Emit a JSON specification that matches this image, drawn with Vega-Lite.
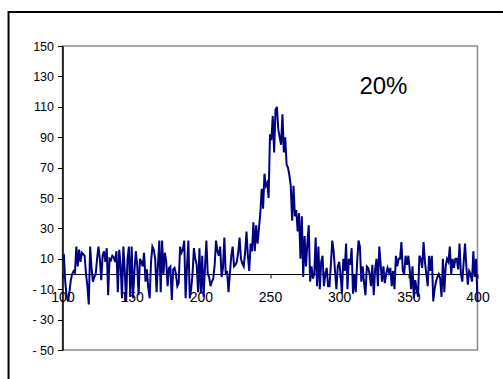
{
  "$schema": "https://vega.github.io/schema/vega-lite/v6.json",
  "autosize": {"type": "none"},
  "width": 415,
  "height": 304,
  "padding": {"left": 62.5, "top": 46, "right": 25.5, "bottom": 29},
  "background": "white",
  "config": {
    "font": "Liberation Sans",
    "view": {"stroke": "#8c8c8c", "strokeWidth": 1.5},
    "axis": {
      "domainColor": "black",
      "tickColor": "black",
      "labelColor": "black",
      "labelFont": "Liberation Sans",
      "grid": false,
      "title": null
    }
  },
  "datasets": {
    "signal": [
      {"x":100,"y":11},{"x":101,"y":12},{"x":102,"y":-5},{"x":103,"y":-15},{"x":104,"y":-18},{"x":105,"y":-12},{"x":106,"y":-4},{"x":107,"y":0},{"x":108,"y":2},{"x":109,"y":1},
      {"x":110,"y":18},{"x":111,"y":5},{"x":112,"y":16},{"x":113,"y":8},{"x":114,"y":14},{"x":115,"y":13},{"x":116,"y":12},{"x":117,"y":0},{"x":118,"y":-8},{"x":119,"y":-20},
      {"x":120,"y":18},{"x":121,"y":4},{"x":122,"y":-5},{"x":123,"y":-2},{"x":124,"y":0},{"x":125,"y":10},{"x":126,"y":18},{"x":127,"y":10},{"x":128,"y":-4},{"x":129,"y":12},
      {"x":130,"y":15},{"x":131,"y":8},{"x":132,"y":17},{"x":133,"y":-14},{"x":134,"y":10},{"x":135,"y":9},{"x":136,"y":12},{"x":137,"y":11},{"x":138,"y":8},{"x":139,"y":15},
      {"x":140,"y":-12},{"x":141,"y":16},{"x":142,"y":6},{"x":143,"y":-16},{"x":144,"y":18},{"x":145,"y":2},{"x":146,"y":-18},{"x":147,"y":10},{"x":148,"y":18},{"x":149,"y":-15},
      {"x":150,"y":18},{"x":151,"y":-16},{"x":152,"y":2},{"x":153,"y":15},{"x":154,"y":6},{"x":155,"y":-14},{"x":156,"y":10},{"x":157,"y":8},{"x":158,"y":5},{"x":159,"y":14},
      {"x":160,"y":-5},{"x":161,"y":3},{"x":162,"y":-9},{"x":163,"y":-16},{"x":164,"y":8},{"x":165,"y":18},{"x":166,"y":16},{"x":167,"y":10},{"x":168,"y":-12},{"x":169,"y":6},
      {"x":170,"y":22},{"x":171,"y":-12},{"x":172,"y":22},{"x":173,"y":0},{"x":174,"y":14},{"x":175,"y":8},{"x":176,"y":-8},{"x":177,"y":4},{"x":178,"y":5},{"x":179,"y":-17},
      {"x":180,"y":3},{"x":181,"y":4},{"x":182,"y":0},{"x":183,"y":-8},{"x":184,"y":-6},{"x":185,"y":18},{"x":186,"y":14},{"x":187,"y":16},{"x":188,"y":22},{"x":189,"y":-16},
      {"x":190,"y":5},{"x":191,"y":22},{"x":192,"y":-16},{"x":193,"y":-10},{"x":194,"y":0},{"x":195,"y":17},{"x":196,"y":10},{"x":197,"y":6},{"x":198,"y":-12},{"x":199,"y":17},
      {"x":200,"y":-13},{"x":201,"y":12},{"x":202,"y":-15},{"x":203,"y":4},{"x":204,"y":22},{"x":205,"y":0},{"x":206,"y":-2},{"x":207,"y":-8},{"x":208,"y":-5},{"x":209,"y":-3},
      {"x":210,"y":6},{"x":211,"y":22},{"x":212,"y":15},{"x":213,"y":12},{"x":214,"y":18},{"x":215,"y":-2},{"x":216,"y":4},{"x":217,"y":24},{"x":218,"y":0},{"x":219,"y":2},
      {"x":220,"y":-12},{"x":221,"y":0},{"x":222,"y":12},{"x":223,"y":18},{"x":224,"y":5},{"x":225,"y":6},{"x":226,"y":8},{"x":227,"y":14},{"x":228,"y":24},{"x":229,"y":10},
      {"x":230,"y":7},{"x":231,"y":5},{"x":232,"y":14},{"x":233,"y":28},{"x":234,"y":12},{"x":235,"y":2},{"x":236,"y":20},{"x":237,"y":15},{"x":238,"y":34},{"x":239,"y":15},
      {"x":240,"y":32},{"x":241,"y":20},{"x":242,"y":30},{"x":243,"y":40},{"x":244,"y":56},{"x":245,"y":43},{"x":246,"y":66},{"x":247,"y":58},{"x":248,"y":60},{"x":249,"y":50},
      {"x":250,"y":92},{"x":251,"y":88},{"x":252,"y":104},{"x":253,"y":80},{"x":254,"y":108},{"x":255,"y":110},{"x":256,"y":95},{"x":257,"y":90},{"x":258,"y":85},{"x":259,"y":105},
      {"x":260,"y":80},{"x":261,"y":90},{"x":262,"y":72},{"x":263,"y":70},{"x":264,"y":65},{"x":265,"y":58},{"x":266,"y":35},{"x":267,"y":58},{"x":268,"y":38},{"x":269,"y":42},
      {"x":270,"y":28},{"x":271,"y":40},{"x":272,"y":10},{"x":273,"y":38},{"x":274,"y":-2},{"x":275,"y":25},{"x":276,"y":5},{"x":277,"y":20},{"x":278,"y":32},{"x":279,"y":-5},
      {"x":280,"y":5},{"x":281,"y":-3},{"x":282,"y":0},{"x":283,"y":24},{"x":284,"y":-8},{"x":285,"y":18},{"x":286,"y":-10},{"x":287,"y":8},{"x":288,"y":12},{"x":289,"y":-8},
      {"x":290,"y":0},{"x":291,"y":4},{"x":292,"y":-8},{"x":293,"y":-8},{"x":294,"y":6},{"x":295,"y":22},{"x":296,"y":15},{"x":297,"y":2},{"x":298,"y":-10},{"x":299,"y":5},
      {"x":300,"y":8},{"x":301,"y":0},{"x":302,"y":-13},{"x":303,"y":10},{"x":304,"y":2},{"x":305,"y":20},{"x":306,"y":-10},{"x":307,"y":10},{"x":308,"y":6},{"x":309,"y":17},
      {"x":310,"y":-13},{"x":311,"y":0},{"x":312,"y":-12},{"x":313,"y":8},{"x":314,"y":22},{"x":315,"y":18},{"x":316,"y":-5},{"x":317,"y":5},{"x":318,"y":-6},{"x":319,"y":-14},
      {"x":320,"y":5},{"x":321,"y":4},{"x":322,"y":0},{"x":323,"y":-8},{"x":324,"y":6},{"x":325,"y":-14},{"x":326,"y":3},{"x":327,"y":10},{"x":328,"y":-8},{"x":329,"y":18},
      {"x":330,"y":6},{"x":331,"y":-5},{"x":332,"y":5},{"x":333,"y":-6},{"x":334,"y":0},{"x":335,"y":4},{"x":336,"y":1},{"x":337,"y":4},{"x":338,"y":-8},{"x":339,"y":2},
      {"x":340,"y":-10},{"x":341,"y":12},{"x":342,"y":5},{"x":343,"y":10},{"x":344,"y":10},{"x":345,"y":21},{"x":346,"y":2},{"x":347,"y":0},{"x":348,"y":12},{"x":349,"y":6},
      {"x":350,"y":12},{"x":351,"y":3},{"x":352,"y":-10},{"x":353,"y":5},{"x":354,"y":-16},{"x":355,"y":-4},{"x":356,"y":-10},{"x":357,"y":-15},{"x":358,"y":12},{"x":359,"y":10},
      {"x":360,"y":4},{"x":361,"y":21},{"x":362,"y":8},{"x":363,"y":0},{"x":364,"y":-8},{"x":365,"y":12},{"x":366,"y":2},{"x":367,"y":12},{"x":368,"y":-18},{"x":369,"y":-10},
      {"x":370,"y":-5},{"x":371,"y":-2},{"x":372,"y":0},{"x":373,"y":-3},{"x":374,"y":-15},{"x":375,"y":10},{"x":376,"y":-12},{"x":377,"y":5},{"x":378,"y":10},{"x":379,"y":8},
      {"x":380,"y":18},{"x":381,"y":0},{"x":382,"y":10},{"x":383,"y":4},{"x":384,"y":10},{"x":385,"y":10},{"x":386,"y":3},{"x":387,"y":20},{"x":388,"y":0},{"x":389,"y":-5},
      {"x":390,"y":8},{"x":391,"y":20},{"x":392,"y":4},{"x":393,"y":-7},{"x":394,"y":2},{"x":395,"y":0},{"x":396,"y":-5},{"x":397,"y":15},{"x":398,"y":-2},{"x":399,"y":10},
      {"x":400,"y":-18}
    ],
    "note": [{"x": 332, "y": 123, "label": "20%"}]
  },
  "layer": [
    {
      "data": {"values": [{}]},
      "mark": {"type": "rect", "fill": null, "stroke": "black", "strokeWidth": 2},
      "encoding": {
        "x": {"datum": 61},
        "x2": {"datum": 600},
        "y": {"datum": 172.4},
        "y2": {"datum": -150}
      }
    },
    {
      "data": {"name": "signal"},
      "mark": {"type": "line", "color": "#000080", "strokeWidth": 2, "strokeJoin": "miter"},
      "encoding": {
        "x": {
          "field": "x",
          "type": "quantitative",
          "scale": {"domain": [100, 400], "nice": false, "zero": false},
          "axis": {
            "values": [100, 150, 200, 250, 300, 350, 400],
            "tickCount": 20,
            "offset": -76,
            "tickSize": 4,
            "labelPadding": 12,
            "labelFontSize": 14,
            "labelFlush": false,
            "labelOverlap": false,
            "domainWidth": 1.2
          }
        },
        "y": {
          "field": "y",
          "type": "quantitative",
          "scale": {"domain": [-50, 150], "nice": false, "zero": false},
          "axis": {
            "values": [-50, -30, -10, 10, 30, 50, 70, 90, 110, 130, 150],
            "tickCount": 20,
            "tickSize": 5,
            "labelPadding": 4,
            "labelFontSize": 12.5,
            "labelOverlap": false,
            "labelExpr": "datum.value < 0 ? '- ' + abs(datum.value) : datum.label",
            "domainWidth": 1.5
          }
        }
      }
    },
    {
      "data": {"name": "note"},
      "mark": {"type": "text", "fontSize": 24, "color": "black", "align": "center", "baseline": "middle"},
      "encoding": {
        "x": {"field": "x", "type": "quantitative"},
        "y": {"field": "y", "type": "quantitative"},
        "text": {"field": "label"}
      }
    }
  ]
}
